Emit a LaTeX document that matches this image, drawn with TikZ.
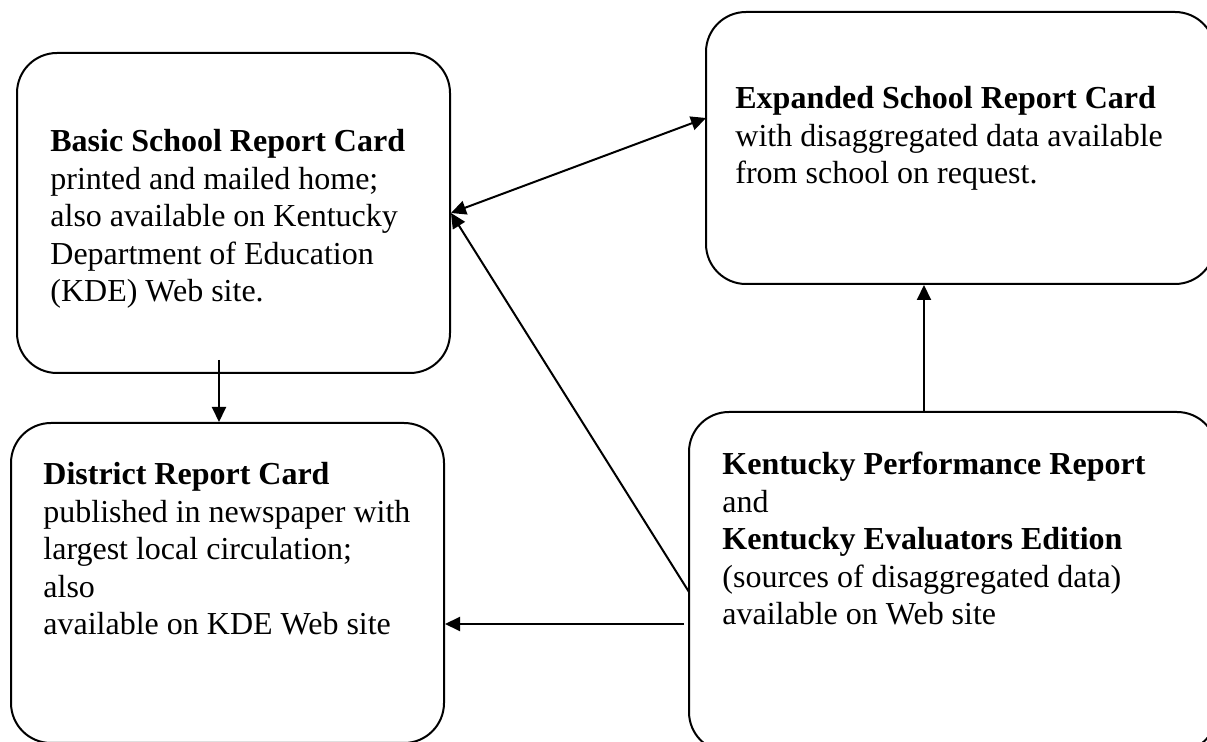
\documentclass[tikz,border=0pt]{standalone}
\usepackage{fontspec}
\setmainfont{Liberation Serif}
\usetikzlibrary{arrows.meta}
\begin{document}
\begin{tikzpicture}[x=0.5pt,y=-0.5pt,
  card/.style={draw=black,line width=1pt,rounded corners=20pt,inner sep=0pt},
  txt/.style={anchor=base west,align=left,inner sep=0pt,
    font=\fontsize{16pt}{18.75pt}\selectfont},
  conn/.style={line width=1pt,-{Triangle[length=7.5pt,width=7pt]}},
  conn2/.style={line width=1pt,{Triangle[length=7.5pt,width=7pt]}-{Triangle[length=7.5pt,width=7pt]}}]
\useasboundingbox (0,0) rectangle (1207,742);
% boxes
\node[card,minimum width=216.5pt,minimum height=160pt] (A) at (233.5,213) {};
\node[card,minimum width=254.5pt,minimum height=136pt] (B) at (960.5,148) {};
\node[card,minimum width=216.5pt,minimum height=160pt] (C) at (227.5,583) {};
\node[card,minimum width=264pt,minimum height=170pt] (D) at (953,582) {};
% texts
\node[txt] (tA) at (50,302) {\textbf{Basic School Report Card}\\printed and mailed home;\\also available on Kentucky\\Department of Education\\(KDE) Web site.};
\node[txt] (tB) at (735,184) {\textbf{Expanded School Report Card}\\with disaggregated data available\\from school on request.};
\node[txt] (tC) at (43,635) {\textbf{District Report Card}\\published in newspaper with\\largest local circulation;\\also\\available on KDE Web site};
\node[txt] (tD) at (722,625) {\textbf{Kentucky Performance Report}\\and\\\textbf{Kentucky Evaluators Edition}\\(sources of disaggregated data)\\available on Web site};
% connectors
\coordinate (ab) at (706,118);
\draw[conn2] (A.east) -- (ab);
\coordinate (da) at (689,592);
\draw[conn] (da) -- (A.east);
\coordinate (ac) at (219,360);
\draw[conn] (ac) -- (ac |- C.north);
\coordinate (dc) at (684,624);
\draw[conn] (dc) -- (dc -| C.east);
\coordinate (db) at (924,412);
\draw[conn] (db) -- (db |- B.south);
\end{tikzpicture}
\end{document}
